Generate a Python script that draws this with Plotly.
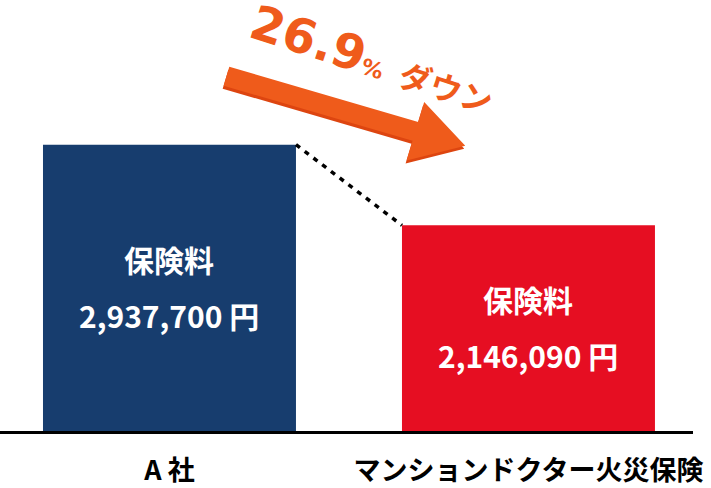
import math
import plotly.graph_objects as go

# ---- data ----
categories = ["A 社", "マンションドクター火災保険"]
premiums = [2937700, 2146090]
value_labels = ["2,937,700 円", "2,146,090 円"]
inner_title = "保険料"
bar_colors = ["#173D6E", "#E60E22"]
headline = "26.9<span style='font-size:22px'>%</span> <span style='font-family:Noto Sans CJK JP;font-size:32px'>ダウン</span>"

W, H = 711, 488
L, R, T, B = 0, 18, 2, 50
PW, PH = W - L - R, H - T - B
Y_RANGE = [128500, 4337500]
X_RANGE = [-0.4721, 1.4583]
BAR_W = 0.7047

fig = go.Figure()
fig.add_trace(go.Bar(
    x=categories, y=premiums, width=BAR_W,
    marker=dict(color=bar_colors, line=dict(width=0)),
    hoverinfo="skip",
))

# inner texts
for c, v, lab in zip(categories, premiums, value_labels):
    mid = (Y_RANGE[0] + v) / 2
    fig.add_annotation(x=c, y=mid, text=inner_title, showarrow=False, yshift=29,
                       font=dict(family="Noto Sans CJK JP", size=30, color="white", weight="bold"))
    fig.add_annotation(x=c, y=mid, text=lab, showarrow=False, yshift=-27,
                       font=dict(family="Noto Sans CJK JP", size=30, color="white", weight="bold"))

# dotted connector between bar tops
fig.add_shape(type="line", xref="x", yref="y",
              x0=0 + BAR_W / 2, y0=premiums[0], x1=1 - BAR_W / 2, y1=premiums[1],
              line=dict(color="black", width=3.5, dash="5px,6px"))

# decorative arrow (pixel -> paper)
def px2paper(px, py):
    return (px - L) / PW, 1 - (py - T) / PH

ang = math.radians(16.5)
u = (math.cos(ang), math.sin(ang))
n = (-math.sin(ang), math.cos(ang))
S = (226.5, 77.5)
length = 249.0
head_len = 52.0
head_hw = 31.0
shaft_hw = 10.0

def pt(a, b):
    return (S[0] + u[0] * a + n[0] * b, S[1] + u[1] * a + n[1] * b)

def arrow_path(dx=0, dy=0):
    pts = [pt(0, -shaft_hw), pt(length - head_len, -shaft_hw), pt(length - head_len, -head_hw),
           pt(length, 0), pt(length - head_len, head_hw), pt(length - head_len, shaft_hw), pt(0, shaft_hw)]
    s = ""
    for i, (x, y) in enumerate(pts):
        px, py = px2paper(x + dx, y + dy)
        s += ("M" if i == 0 else "L") + f"{px:.5f},{py:.5f} "
    return s + "Z"

fig.add_shape(type="path", xref="paper", yref="paper", path=arrow_path(-1, 3),
              fillcolor="#DD4510", line=dict(width=0), layer="above")
fig.add_shape(type="path", xref="paper", yref="paper", path=arrow_path(),
              fillcolor="#EF5B1B", line=dict(width=0), layer="above")

tx, ty = px2paper(372, 60)
fig.add_annotation(xref="paper", yref="paper", x=tx, y=ty, text=headline, showarrow=False,
                   textangle=18, xanchor="center", yanchor="middle",
                   font=dict(family="DejaVu Sans, Noto Sans CJK JP", size=48, color="#EF5B1B", weight="bold"))

fig.update_layout(
    width=W, height=H, margin=dict(l=L, r=R, t=T, b=B, pad=0),
    paper_bgcolor="white", plot_bgcolor="white", showlegend=False,
    xaxis=dict(range=X_RANGE, showgrid=False, zeroline=False, showline=True,
               linecolor="black", linewidth=3, ticks="", ticklabelstandoff=14,
               tickfont=dict(family="Noto Sans CJK JP", size=27, color="black", weight="bold")),
    yaxis=dict(range=Y_RANGE, visible=False, showgrid=False, zeroline=False),
)

fig.write_html("out.html", config={"displayModeBar": False},
               post_script="document.body.style.margin='0';document.body.style.overflow='hidden';")
